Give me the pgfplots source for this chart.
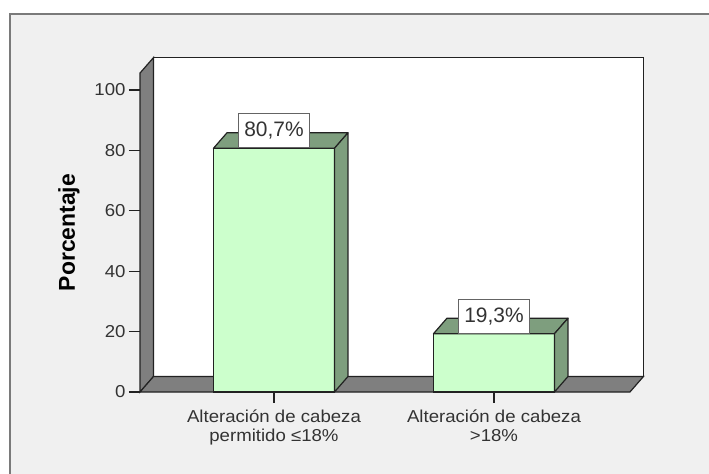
\documentclass[border=0pt]{standalone}
\usepackage{fontspec}
\setmainfont{Liberation Sans}
\newfontfamily\labfont{Liberation Sans}[FakeStretch=1.08]
\usepackage{pgfplots}
\usepackage{pgfplotstable}
\pgfplotsset{compat=1.18}
\definecolor{bgc}{HTML}{F0F0F0}
\definecolor{framec}{HTML}{7A7A7A}
\definecolor{wallc}{HTML}{7F7F7F}
\definecolor{barfront}{HTML}{CCFFCC}
\definecolor{barside}{HTML}{7E9E7E}
\definecolor{edgec}{HTML}{222222}
\definecolor{ticktext}{HTML}{333333}
\pgfplotstableread{
x y
0 80.7
1 19.3
}\datatab
\begin{document}
\begin{tikzpicture}
\fill[white] (0,0) rectangle (709bp,474bp);
\fill[bgc] (10bp,0) rectangle (709bp,460bp);
\draw[framec, line width=2bp] (10bp,-2bp) -- (10bp,460bp) -- (711bp,460bp);
\begin{axis}[
  at={(140bp,82bp)}, anchor=south west,
  x=220bp, y=3.02bp,
  xmin=-0.609, xmax=1.618, ymin=0, ymax=105.6,
  clip=false,
  axis lines*=left, axis line style={draw=none},
  tick align=outside, major tick length=11bp,
  tick style={edgec, line width=1.1bp},
  xtick={0,1},
  xticklabels={{Alteración de cabeza\\permitido ≤18\%},{Alteración de cabeza\\>18\%}},
  xticklabel style={align=center, font=\labfont\fontsize{17.3}{18.5}\selectfont, text=ticktext, yshift=-3.5bp},
  ytick={0,20,40,60,80,100},
  yticklabel style={font=\labfont\fontsize{17.3}{20}\selectfont, text=ticktext},
  /pgf/number format/assume math mode=true,
  ylabel={Porcentaje},
  ylabel style={font=\bfseries\fontsize{23}{23}\selectfont, text=black, at={(axis description cs:-0.145,0.5)}, anchor=center},
]
% walls (drawn first)
\draw[fill=white, draw=edgec, line width=1.2bp]
  ([shift={(13.5bp,15.5bp)}]rel axis cs:0,0) rectangle ([shift={(13.5bp,15.5bp)}]rel axis cs:1,1);
\draw[fill=wallc, draw=edgec, line width=1.2bp]
  (rel axis cs:0,0) -- ([shift={(13.5bp,15.5bp)}]rel axis cs:0,0)
  -- ([shift={(13.5bp,15.5bp)}]rel axis cs:0,1) -- (rel axis cs:0,1) -- cycle;
\draw[fill=wallc, draw=edgec, line width=1.2bp]
  (rel axis cs:0,0) -- ([shift={(13.5bp,15.5bp)}]rel axis cs:0,0)
  -- ([shift={(13.5bp,15.5bp)}]rel axis cs:1,0) -- (rel axis cs:1,0) -- cycle;
% front faces of the bars
\addplot[ybar, bar width=121bp, fill=barfront, draw=edgec, line width=1.2bp]
  table[x=x, y=y] {\datatab};
% top and side faces, read from the same table
\pgfplotsextra{%
  \foreach \r in {0,1}{%
    \pgfplotstablegetelem{\r}{x}\of\datatab \let\bx\pgfplotsretval
    \pgfplotstablegetelem{\r}{y}\of\datatab \let\by\pgfplotsretval
    \draw[fill=barside, draw=edgec, line width=1.2bp, line join=round]
      ([xshift=-60.5bp]axis cs:\bx,\by) -- ([xshift=-47bp,yshift=15.5bp]axis cs:\bx,\by)
      -- ([xshift=74bp,yshift=15.5bp]axis cs:\bx,\by) -- ([xshift=60.5bp]axis cs:\bx,\by) -- cycle;
    \draw[fill=barside, draw=edgec, line width=1.2bp, line join=round]
      ([xshift=60.5bp]axis cs:\bx,\by) -- ([xshift=74bp,yshift=15.5bp]axis cs:\bx,\by)
      -- ([xshift=74bp,yshift=15.5bp]axis cs:\bx,0) -- ([xshift=60.5bp]axis cs:\bx,0) -- cycle;
  }%
}
% value labels
\addplot[draw=none, mark=none, point meta=y,
  nodes near coords={\pgfmathprintnumber[fixed, precision=1, fixed zerofill, use comma]{\pgfplotspointmeta}\%},
  every node near coord/.append style={anchor=south, draw=edgec!70, fill=white, line width=0.9bp,
    minimum width=71bp, minimum height=34bp, inner sep=0pt,
    font=\fontsize{21}{21}\selectfont, text=ticktext},
] table[x=x, y=y] {\datatab};
\end{axis}
\pgfresetboundingbox
\useasboundingbox (0,0) rectangle (709bp,474bp);
\end{tikzpicture}
\end{document}
